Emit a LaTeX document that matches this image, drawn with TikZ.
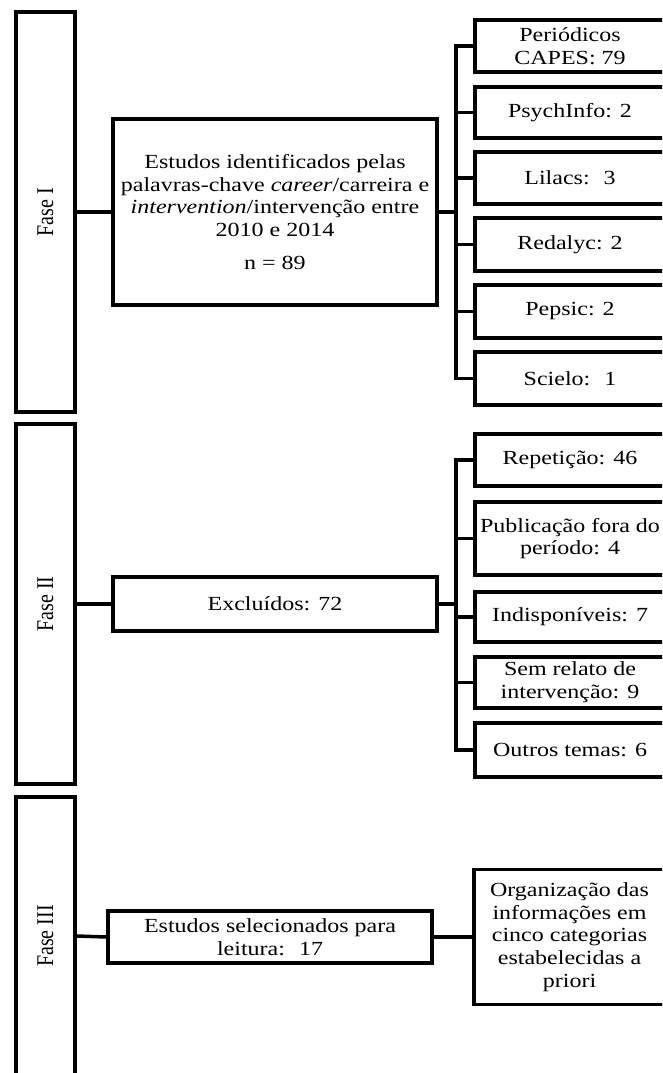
\documentclass[tikz,border=0pt]{standalone}
\usepackage{fontspec}
\setmainfont{Liberation Serif}[FakeStretch=1.2]
\newfontfamily\fasefont{Liberation Serif}
\tikzset{
  box/.style={draw, line width=3.5pt, align=center, inner sep=0pt,
    font=\fontsize{20}{22.8}\selectfont},
  rbox/.style={box, minimum width=190pt},
  fasebox/.style={draw, line width=3.5pt, minimum width=59pt, inner sep=0pt,
    font=\fontsize{20}{22.8}\selectfont},
  conn/.style={line width=3.5pt},
}
\newcommand{\faselabel}[1]{\rotatebox{90}{\scalebox{1}[1.2]{\fasefont #1}}}
\begin{document}
\begin{tikzpicture}[x=1pt,y=-1pt]
\clip (0,0) rectangle (662,1073);
% ---------- Fase I ----------
\node[fasebox, minimum height=400pt] (f1) at (45.5,212) {\faselabel{Fase I}};
\node[box, minimum width=324pt, minimum height=186pt] (m1) at (275,212)
  {Estudos identificados pelas\\
   palavras-chave \textit{career}/carreira e\\
   \textit{intervention}/intervenção entre\\
   2010 e 2014\\[10pt]
   n = 89};
\coordinate (b1) at (456,212);
\node[rbox, minimum height=52pt] (r11) at (570,46) {Periódicos\\CAPES: 79};
\node[rbox, minimum height=51pt] (r12) at (570,112.5) {PsychInfo: 2};
\node[rbox, minimum height=52pt] (r13) at (570,178) {Lilacs:~ 3};
\node[rbox, minimum height=53pt] (r14) at (570,244.5) {Redalyc: 2};
\node[rbox, minimum height=53pt] (r15) at (570,311.5) {Pepsic: 2};
\node[rbox, minimum height=53pt] (r16) at (570,378.5) {Scielo:~ 1};
\draw[conn] (f1.east) -- (m1.west);
\draw[conn] (m1.east) -- (b1);
\draw[conn] (r11.west) -- (b1 |- r11.west) -- (b1 |- r16.west) -- (r16.west);
\foreach \i in {2,...,5} \draw[conn] (b1 |- r1\i.west) -- (r1\i.west);
% ---------- Fase II ----------
\node[fasebox, minimum height=360pt] (f2) at (45.5,604) {\faselabel{Fase II}};
\node[box, minimum width=324pt, minimum height=54pt] (ex) at (275,604) {Excluídos: 72};
\coordinate (b2) at (456,604);
\node[rbox, minimum height=52pt] (r21) at (570,460) {Repetição: 46};
\node[rbox, minimum height=73pt] (r22) at (570,538.5) {Publicação fora do\\período: 4};
\node[rbox, minimum height=50pt] (r23) at (570,617) {Indisponíveis: 7};
\node[rbox, minimum height=51pt] (r24) at (570,682.5) {Sem relato de\\intervenção: 9};
\node[rbox, minimum height=54pt] (r25) at (570,750) {Outros temas: 6};
\draw[conn] (f2.east) -- (ex.west);
\draw[conn] (ex.east) -- (b2);
\draw[conn] (r21.west) -- (b2 |- r21.west) -- (b2 |- r25.west) -- (r25.west);
\foreach \i in {2,...,4} \draw[conn] (b2 |- r2\i.west) -- (r2\i.west);
% ---------- Fase III ----------
\node[fasebox, minimum height=278pt] (f3) at (45.5,936) {\faselabel{Fase III}};
\node[box, minimum width=324pt, minimum height=52pt] (sel) at (270,937)
  {Estudos selecionados para\\leitura:~ 17};
\node[rbox, minimum width=191pt, minimum height=135pt] (org) at (569.5,937)
  {Organização das\\informações em\\cinco categorias\\estabelecidas a\\priori};
\draw[conn] (f3.east) -- (sel.west);
\draw[conn] (sel.east) -- (org.west);
\end{tikzpicture}
\end{document}
